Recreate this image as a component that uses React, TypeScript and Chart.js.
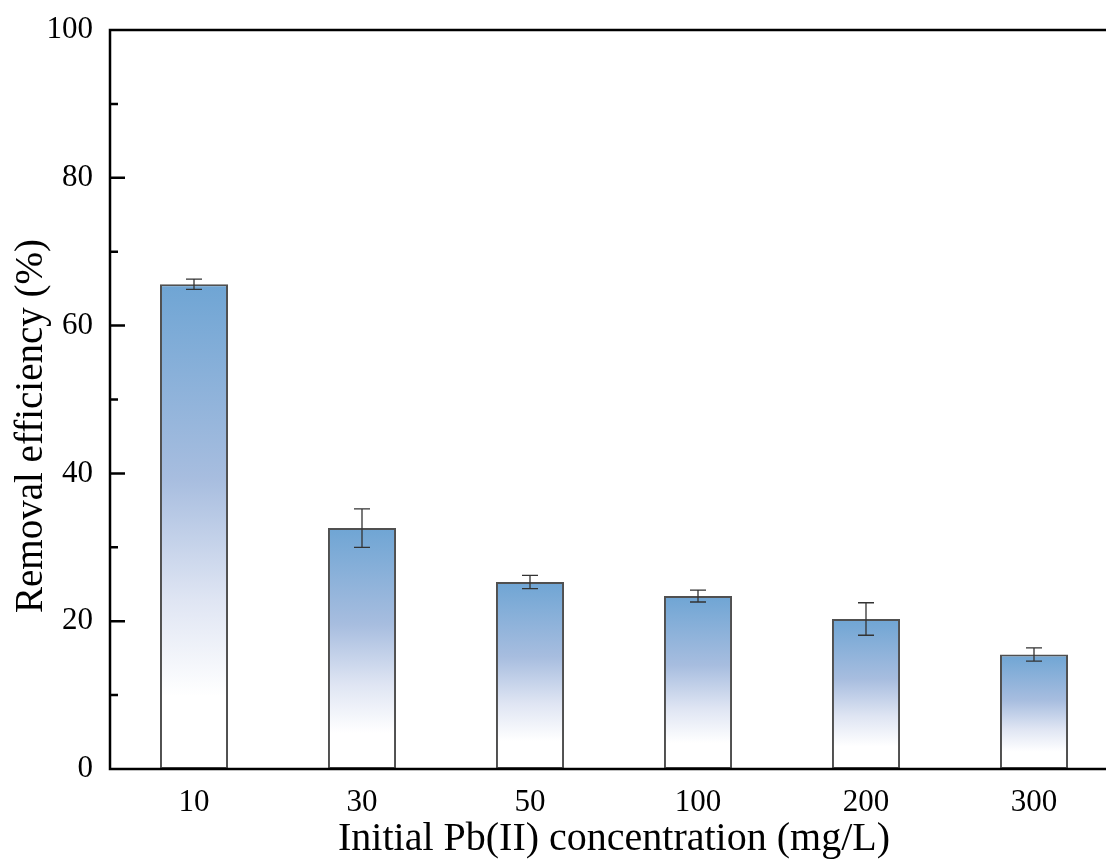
import { useEffect, useRef } from 'react';
import { Chart, registerables } from 'chart.js';
Chart.register(...registerables);

const categories = ['10', '30', '50', '100', '200', '300'];
const efficiency = [65.6, 32.6, 25.3, 23.4, 20.3, 15.5];
const errors = [0.7, 2.6, 0.9, 0.8, 2.2, 0.9];
const majorTicks = [0, 20, 40, 60, 80, 100];
const minorTicks = [10, 30, 50, 70, 90];
const xTitle = 'Initial Pb(II) concentration (mg/L)';
const yTitle = 'Removal efficiency (%)';

const FONT = "'Liberation Serif', 'Times New Roman', serif";
const CW = 1122;
const CH = 862;

const decorPlugin = {
  id: 'decor',
  afterDatasetsDraw(chart: any) {
    const ctx = chart.ctx;
    const y = chart.scales.y;
    const meta = chart.getDatasetMeta(0);
    ctx.save();
    ctx.strokeStyle = '#333333';
    ctx.lineWidth = 1.3;
    meta.data.forEach((bar: any, i: number) => {
      const v = efficiency[i];
      const e = errors[i];
      const yt = y.getPixelForValue(v + e);
      const yb = y.getPixelForValue(v - e);
      const x = bar.x;
      const cap = 8;
      ctx.beginPath();
      ctx.moveTo(x, yt);
      ctx.lineTo(x, yb);
      ctx.moveTo(x - cap, yt);
      ctx.lineTo(x + cap, yt);
      ctx.moveTo(x - cap, yb);
      ctx.lineTo(x + cap, yb);
      ctx.stroke();
    });
    ctx.restore();
  },
  afterDraw(chart: any) {
    const ctx = chart.ctx;
    const { left, right, top, bottom } = chart.chartArea;
    const y = chart.scales.y;
    ctx.save();
    ctx.strokeStyle = '#000';
    ctx.lineWidth = 2.5;
    ctx.beginPath();
    ctx.moveTo(left, top);
    ctx.lineTo(right, top);
    ctx.moveTo(left, top - 1.2);
    ctx.lineTo(left, bottom + 1.2);
    ctx.moveTo(left - 1.2, bottom);
    ctx.lineTo(right, bottom);
    majorTicks.forEach((t) => {
      const py = y.getPixelForValue(t);
      ctx.moveTo(left, py);
      ctx.lineTo(left + 15, py);
    });
    minorTicks.forEach((t) => {
      const py = y.getPixelForValue(t);
      ctx.moveTo(left, py);
      ctx.lineTo(left + 8, py);
    });
    ctx.stroke();

    // axis titles
    ctx.fillStyle = '#000';
    ctx.textAlign = 'center';
    ctx.textBaseline = 'alphabetic';
    ctx.font = `40px ${FONT}`;
    ctx.fillText(xTitle, (left + right) / 2, 850);
    ctx.save();
    ctx.translate(42, 426);
    ctx.rotate(-Math.PI / 2);
    ctx.font = `39px ${FONT}`;
    ctx.fillText(yTitle, 0, 0);
    ctx.restore();
    ctx.restore();
  },
};

function barGradient(context: any) {
  const chart = context.chart;
  const y = chart.scales && chart.scales.y;
  if (!y || context.dataIndex === undefined) return '#6fa5d4';
  const v = efficiency[context.dataIndex];
  const yTop = y.getPixelForValue(v);
  const yBase = y.getPixelForValue(0);
  if (!isFinite(yTop) || !isFinite(yBase) || yTop === yBase) return '#6fa5d4';
  const g = chart.ctx.createLinearGradient(0, yTop, 0, yBase);
  g.addColorStop(0, '#6fa5d4');
  g.addColorStop(0.4, '#a7bddf');
  g.addColorStop(0.65, '#dfe5f3');
  g.addColorStop(0.85, '#ffffff');
  g.addColorStop(1, '#ffffff');
  return g;
}

export default function App() {
  const ref = useRef<HTMLCanvasElement>(null);
  useEffect(() => {
    if (!ref.current) return;
    const chart = new Chart(ref.current, {
      type: 'bar',
      data: {
        labels: categories,
        datasets: [
          {
            data: efficiency,
            backgroundColor: barGradient as any,
            borderColor: '#505050',
            borderWidth: 2,
            borderSkipped: false,
            barPercentage: 0.405,
            categoryPercentage: 1,
          },
        ],
      },
      options: {
        animation: false,
        responsive: false,
        devicePixelRatio: 1,
        layout: { padding: { top: 30, right: CW - 1118, left: 0, bottom: 0 } },
        plugins: { legend: { display: false }, tooltip: { enabled: false } },
        scales: {
          x: {
            grid: { display: false },
            border: { display: false },
            ticks: { color: '#000', font: { family: FONT, size: 31 }, padding: 7 },
            afterFit: (s: any) => {
              s.height = 93;
              s.paddingLeft = 0;
              s.paddingRight = 0;
            },
          },
          y: {
            min: 0,
            max: 100,
            grid: { display: false },
            border: { display: false },
            ticks: {
              stepSize: 20,
              color: '#000',
              font: { family: FONT, size: 31 },
              padding: 9,
            },
            afterFit: (s: any) => {
              s.width = 110;
              s.paddingTop = 0;
              s.paddingBottom = 0;
            },
          },
        },
      },
      plugins: [decorPlugin],
    });
    return () => chart.destroy();
  }, []);
  return (
    <div style={{ position: 'fixed', left: 0, top: 0, width: 1106, height: 862, overflow: 'hidden', background: '#fff' }}>
      <canvas ref={ref} width={CW} height={CH} style={{ width: CW, height: CH, display: 'block' }} />
    </div>
  );
}
